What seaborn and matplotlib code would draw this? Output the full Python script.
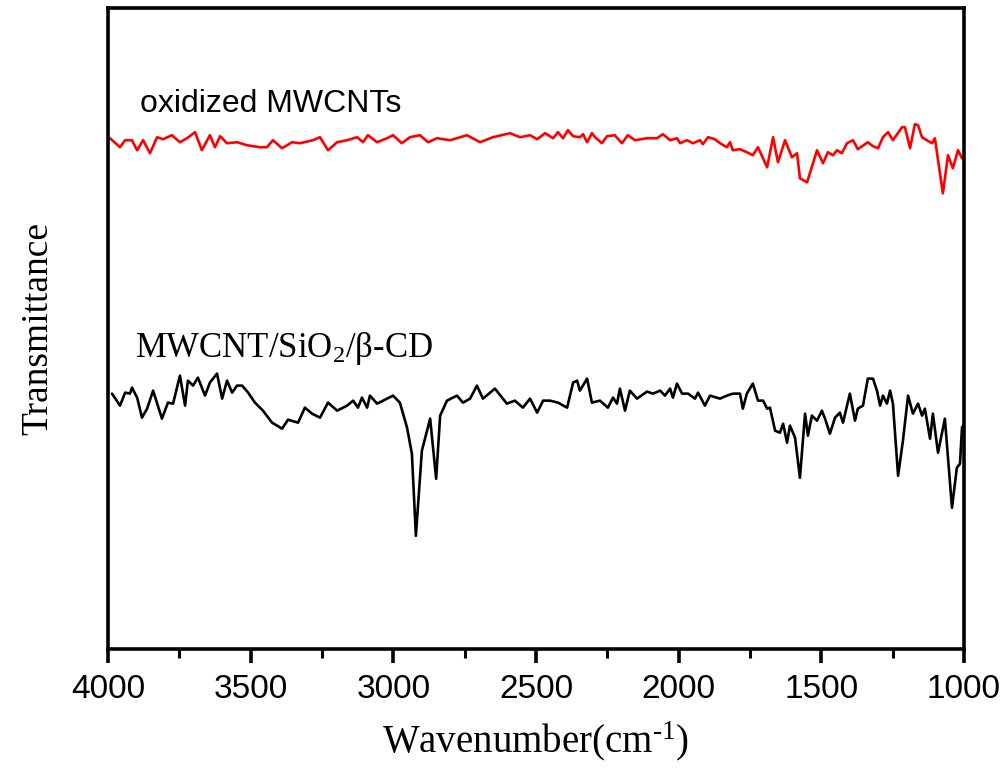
import numpy as np
import pandas as pd
import matplotlib
matplotlib.use("Agg")
import matplotlib.pyplot as plt
from matplotlib.ticker import MultipleLocator
import seaborn as sns

# FTIR spectra, transmittance in arbitrary units (offset curves)
wn_ox = [3993, 3958, 3940, 3916, 3898, 3877, 3853, 3828, 3807, 3776, 3748, 3723, 3695, 3671,
         3643, 3625, 3607, 3583, 3548, 3513, 3467, 3443, 3422, 3390, 3355, 3327, 3282, 3257,
         3229, 3197, 3162, 3127, 3106, 3089, 3057, 3022, 3001, 2970, 2942, 2907, 2878, 2847,
         2801, 2742, 2696, 2651, 2591, 2556, 2521, 2496, 2468, 2440, 2423, 2405, 2388, 2370,
         2346, 2335, 2321, 2304, 2293, 2269, 2251, 2224, 2199, 2178, 2153, 2111, 2076, 2055,
         2030, 2006, 1995, 1971, 1950, 1925, 1915, 1897, 1873, 1855, 1831, 1820, 1810, 1785,
         1761, 1740, 1722, 1690, 1669, 1652, 1627, 1603, 1585, 1575, 1550, 1515, 1494, 1477,
         1459, 1445, 1428, 1410, 1389, 1372, 1337, 1319, 1301, 1284, 1266, 1249, 1217, 1207,
         1189, 1172, 1161, 1147, 1130, 1112, 1102, 1074, 1056, 1039, 1021, 1007, 1000]
t_ox = [510, 501, 508, 508, 498, 508, 495, 511, 509, 513, 506, 510, 516, 498,
        513, 501, 512, 505, 506, 503, 501, 501, 508, 500, 506, 505, 508, 511,
        498, 506, 508, 511, 506, 513, 506, 510, 513, 505, 511, 513, 506, 510,
        508, 513, 506, 511, 515, 511, 513, 509, 515, 510, 516, 510, 518, 512,
        511, 514, 506, 515, 511, 505, 512, 513, 505, 513, 508, 510, 510, 514,
        508, 510, 505, 508, 505, 508, 504, 511, 509, 505, 501, 506, 498, 499,
        496, 493, 501, 481, 511, 486, 508, 491, 495, 470, 466, 498, 485, 496,
        493, 498, 495, 505, 508, 499, 506, 502, 500, 511, 516, 508, 521, 521,
        500, 524, 523, 511, 508, 505, 510, 455, 493, 480, 498, 490, 492]

wn_cd = [3986, 3958, 3940, 3923, 3916, 3898, 3881, 3863, 3842, 3811, 3790, 3772, 3748, 3730,
         3720, 3702, 3685, 3660, 3643, 3618, 3600, 3583, 3565, 3548, 3530, 3509, 3485, 3457,
         3425, 3390, 3369, 3334, 3310, 3285, 3257, 3229, 3197, 3162, 3141, 3124, 3110, 3092,
         3082, 3057, 3022, 3001, 2977, 2952, 2935, 2921, 2900, 2871, 2850, 2836, 2812, 2777,
         2756, 2731, 2707, 2686, 2644, 2602, 2574, 2546, 2521, 2496, 2475, 2451, 2423, 2391,
         2370, 2356, 2346, 2321, 2304, 2276, 2248, 2230, 2216, 2206, 2188, 2171, 2146, 2111,
         2090, 2065, 2048, 2030, 2020, 2006, 1988, 1967, 1943, 1932, 1908, 1890, 1855, 1831,
         1810, 1785, 1775, 1761, 1740, 1722, 1704, 1690, 1680, 1662, 1645, 1634, 1620, 1610,
         1592, 1575, 1557, 1547, 1533, 1515, 1498, 1487, 1470, 1452, 1435, 1424, 1400, 1382,
         1372, 1354, 1337, 1319, 1305, 1294, 1284, 1270, 1259, 1249, 1231, 1214, 1196, 1179,
         1161, 1147, 1137, 1119, 1109, 1091, 1067, 1042, 1025, 1014, 1007, 1000]
t_cd = [255, 243, 256, 255, 261, 251, 231, 240, 258, 230, 246, 245, 273, 243,
        268, 263, 271, 253, 266, 275, 250, 268, 256, 263, 263, 256, 246, 238,
        226, 220, 229, 226, 241, 235, 231, 246, 238, 243, 248, 241, 251, 241,
        253, 245, 250, 253, 246, 221, 195, 113, 198, 230, 170, 233, 248, 253,
        246, 250, 263, 250, 260, 245, 248, 241, 250, 236, 248, 248, 246, 241,
        266, 268, 258, 270, 246, 248, 241, 251, 245, 260, 238, 258, 250, 257,
        255, 258, 253, 260, 251, 265, 255, 255, 250, 256, 243, 253, 250, 253,
        255, 255, 240, 255, 265, 248, 248, 240, 241, 218, 216, 225, 206, 223,
        211, 171, 235, 213, 233, 228, 238, 230, 215, 231, 236, 226, 255, 228,
        240, 243, 270, 270, 258, 243, 253, 245, 258, 245, 173, 208, 253, 235,
        245, 233, 240, 210, 235, 196, 230, 141, 181, 185, 221, 225]

label_ox = "oxidized MWCNTs"
label_cd = r"MWCNT/SiO$_2$/β-CD"

df_ox = pd.DataFrame({"wn": wn_ox, "t": t_ox})
df_cd = pd.DataFrame({"wn": wn_cd, "t": t_cd})

sns.set_style("ticks")
plt.rcParams["font.family"] = ["Liberation Serif", "DejaVu Serif"]
plt.rcParams["mathtext.fontset"] = "custom"
plt.rcParams["mathtext.rm"] = "Liberation Serif"
plt.rcParams["mathtext.it"] = "Liberation Serif:italic"
plt.rcParams["text.color"] = "black"
plt.rcParams["axes.labelcolor"] = "black"
plt.rcParams["axes.edgecolor"] = "black"
plt.rcParams["xtick.color"] = "black"

fig = plt.figure(figsize=(10.03, 7.70), dpi=100)
ax = fig.add_axes([0.1077, 0.1571, 0.8534, 0.8325])

sns.lineplot(data=df_ox, x="wn", y="t", color="#ff0000", linewidth=1.9, ax=ax,
             sort=False, estimator=None)
sns.lineplot(data=df_cd, x="wn", y="t", color="black", linewidth=1.9, ax=ax,
             sort=False, estimator=None)

ax.set_xlim(4000, 1000)
ax.set_ylim(0, 640)
ax.xaxis.set_major_locator(MultipleLocator(500))
ax.xaxis.set_minor_locator(MultipleLocator(250))
ax.set_yticks([])

for s in ax.spines.values():
    s.set_linewidth(2.6)
    s.set_visible(True)

ax.tick_params(axis="x", which="major", direction="out", length=10, width=2.6,
               labelsize=24, pad=8)
ax.tick_params(axis="x", which="minor", direction="out", length=6.5, width=2.2)
for lab in ax.get_xticklabels():
    lab.set_fontfamily(["Liberation Sans", "DejaVu Sans"])

ax.set_xlabel(r"Wavenumber(cm$^{\text{-}1}$)", fontsize=28, labelpad=10)
ax.set_ylabel("Transmittance", fontsize=27, labelpad=38)

ax.text(3888, 536, label_ox, fontsize=23, family=["Liberation Sans", "DejaVu Sans"],
        ha="left", va="baseline")
ax.text(3905, 292, label_cd, fontsize=25, ha="left", va="baseline")

fig.savefig("out.png", dpi=100)
